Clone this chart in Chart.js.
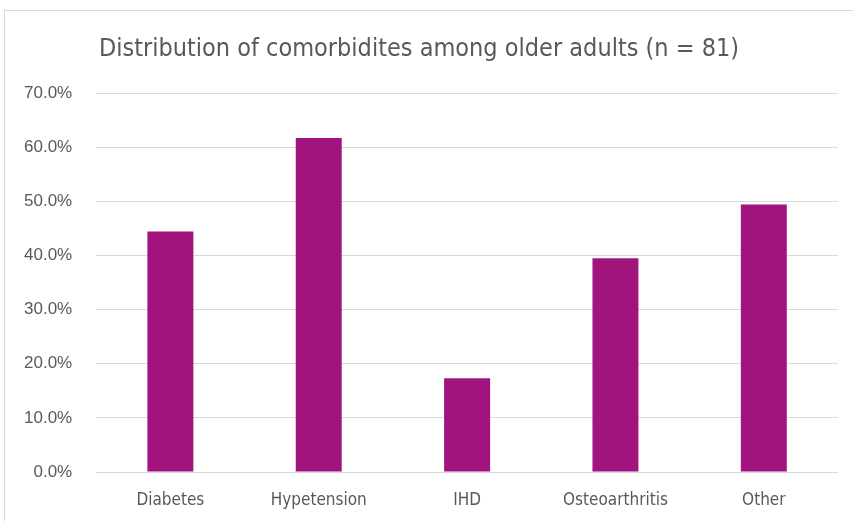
<!DOCTYPE html>
<html>
<head>
<meta charset="utf-8">
<script src="https://cdn.jsdelivr.net/npm/chart.js@4"></script>
<style>
  body { margin:0; background:#fff; }
  #wrap { position:relative; width:853px; height:521px; }
  #frame { position:absolute; left:4px; top:10px; width:860px; height:520px; border:1px solid #d9d9d9; box-sizing:border-box; }
  canvas { position:absolute; left:0; top:0; }
</style>
</head>
<body>
<div id="wrap">
  <div id="frame"></div>
  <canvas id="chart" width="853" height="521"></canvas>
</div>
<script>
var categories = ['Diabetes', 'Hypetension', 'IHD', 'Osteoarthritis', 'Other'];
var shares = [0.444, 0.617, 0.173, 0.395, 0.494];
var yTicks = [0, 0.1, 0.2, 0.3, 0.4, 0.5, 0.6, 0.7];

var narrow = '"Liberation Sans Narrow", "Arial Narrow", "DejaVu Sans Condensed", sans-serif';
let ctx = document.querySelector('#chart').getContext('2d');
let chart = new Chart(ctx, {
	type:'bar',
	data:{
		labels:categories,
		datasets:[{
			data:shares,
			backgroundColor:'#a2147d',
			borderColor:'#a2147d',
			borderWidth:0,
			barPercentage:0.31,
			categoryPercentage:1,
		}]
	},
	options:{
		responsive:false,
		animation:false,
		layout:{ padding:{ left:0, right:15, top:16, bottom:0 } },
		plugins:{
			legend:{ display:false },
			tooltip:{ enabled:false },
			title:{
				display:true,
				text:'Distribution of comorbidites among older adults (n = 81)',
				color:'#595959',
				font:{ family:narrow, size:25, weight:'normal' },
				padding:{ top:18, bottom:29 },
			}
		},
		scales:{
			x:{
				grid:{ display:false },
				border:{ display:false },
				ticks:{ color:'#595959', font:{ family:narrow, size:17, lineHeight:1 }, padding:12 },
			},
			y:{
				min:0,
				max:0.7,
				afterBuildTicks:function(axis){ axis.ticks = yTicks.map(function(v){ return {value:v}; }); },
				grid:{ color:'#d9d9d9', drawTicks:false },
				border:{ display:false },
				ticks:{
					color:'#595959',
					font:{ family:'"Liberation Sans", Arial, sans-serif', size:17 },
					padding:24,
					callback:function(v){ return (v*100).toFixed(1) + '%'; }
				},
			}
		}
	}
});
</script>
</body>
</html>
